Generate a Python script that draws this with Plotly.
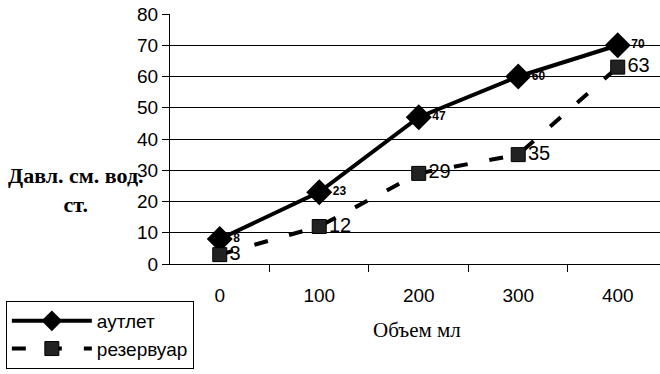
import plotly.graph_objects as go

volumes = [0, 100, 200, 300, 400]
outlet = [8, 23, 47, 60, 70]
reservoir = [3, 12, 29, 35, 63]
y_ticks = [0, 10, 20, 30, 40, 50, 60, 70, 80]

fig = go.Figure()
fig.add_trace(go.Scatter(
    x=volumes, y=outlet, name="аутлет", mode="lines+markers+text",
    legendgroup="a",
    line=dict(color="black", width=4),
    marker=dict(symbol="diamond", size=20, color="black"),
    text=[str(v) for v in outlet], texttemplate="<b>%{text}</b>",
    textposition="middle right",
    textfont=dict(family="Arial", size=12, color="black"),
    cliponaxis=False,
))
fig.add_trace(go.Scatter(
    x=volumes, y=reservoir, name="резервуар", mode="lines+markers+text",
    legendgroup="b",
    line=dict(color="black", width=4, dash="14px,22px"),
    marker=dict(symbol="square", size=14, color="#222",
                line=dict(color="black", width=1)),
    text=[str(v) for v in reservoir], textposition="middle right",
    textfont=dict(family="Arial", size=20, color="black"),
    cliponaxis=False,
))

fig.update_layout(
    width=660, height=374,
    margin=dict(l=170, r=0, t=14, b=110),
    paper_bgcolor="white", plot_bgcolor="white",
    font=dict(family="Arial", color="black"),
    showlegend=True,
    legend=dict(x=-0.335, y=-0.148, xanchor="left", yanchor="top",
                bordercolor="black", borderwidth=1, itemwidth=80,
                font=dict(family="Arial", size=19, color="black"),
                bgcolor="white", tracegroupgap=0),
    xaxis=dict(range=[-50, 442.5], tickvals=volumes,
               ticktext=[str(v) for v in volumes],
               ticks="outside", ticklen=14, tickcolor="rgba(0,0,0,0)",
               tickfont=dict(family="Arial", size=19),
               showgrid=False, zeroline=False,
               showline=True, linecolor="black", linewidth=1,
               minor=dict(tickvals=[50, 150, 250, 350], ticks="outside",
                          ticklen=7, tickcolor="black", showgrid=False)),
    yaxis=dict(range=[0, 80], tickvals=y_ticks,
               ticks="outside", ticklen=7, tickcolor="black",
               tickfont=dict(family="Arial", size=19),
               showgrid=True, gridcolor="black", gridwidth=1,
               zeroline=False, showline=True, linecolor="black", linewidth=1),
    annotations=[
        dict(text="<b>Давл. см. вод.</b><br><b>ст.</b>", xref="paper", yref="paper",
             x=-0.192, y=0.296, xanchor="center", yanchor="middle",
             showarrow=False,
             font=dict(family="Liberation Serif", size=22, color="black"),
             align="center"),
        dict(text="Объем мл", xref="paper", yref="paper",
             x=0.504, y=-0.264, xanchor="center", yanchor="middle",
             showarrow=False,
             font=dict(family="Liberation Serif", size=21, color="black")),
    ],
)

fig.write_html("out.html")
